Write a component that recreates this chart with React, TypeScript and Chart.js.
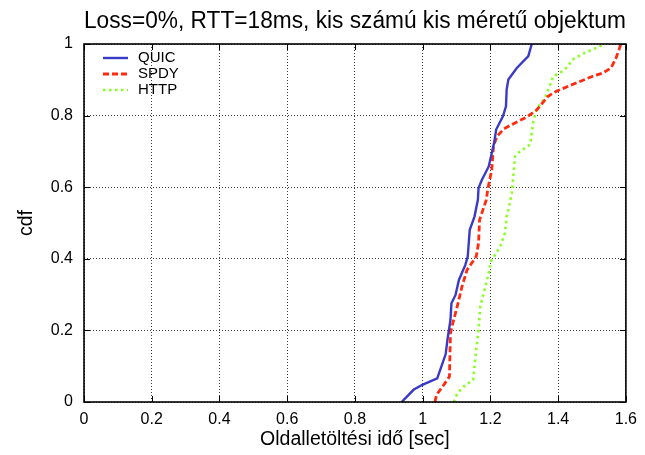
import { useEffect, useRef } from 'react';
import { Chart, registerables } from 'chart.js';

Chart.register(...registerables);

const titleText = 'Loss=0%, RTT=18ms, kis számú kis méretű objektum';
const xAxisTitle = 'Oldalletöltési idő [sec]';
const yAxisTitle = 'cdf';
const xTicks = [0, 0.2, 0.4, 0.6, 0.8, 1, 1.2, 1.4, 1.6];
const yTicks = [0, 0.2, 0.4, 0.6, 0.8, 1];
const seriesNames = ['QUIC', 'SPDY', 'HTTP'];

const quicX = [0.938, 0.973, 0.999, 1.043, 1.068, 1.073, 1.082, 1.085, 1.097, 1.107, 1.126, 1.133, 1.139, 1.153, 1.163, 1.165, 1.175, 1.195, 1.211, 1.217, 1.237, 1.246, 1.248, 1.253, 1.278, 1.312, 1.322];
const quicY = [0, 0.034, 0.048, 0.066, 0.134, 0.173, 0.229, 0.276, 0.299, 0.341, 0.383, 0.406, 0.481, 0.518, 0.565, 0.598, 0.621, 0.658, 0.724, 0.761, 0.798, 0.826, 0.873, 0.901, 0.933, 0.966, 1.0];

const spdyX = [1.036, 1.041, 1.073, 1.079, 1.082, 1.089, 1.102, 1.116, 1.131, 1.158, 1.165, 1.168, 1.188, 1.192, 1.204, 1.209, 1.219, 1.24, 1.263, 1.307, 1.336, 1.37, 1.395, 1.453, 1.502, 1.532, 1.556, 1.571, 1.58, 1.585];
const spdyY = [0, 0.02, 0.062, 0.071, 0.192, 0.22, 0.267, 0.322, 0.369, 0.406, 0.444, 0.509, 0.565, 0.593, 0.649, 0.714, 0.742, 0.763, 0.775, 0.796, 0.815, 0.854, 0.868, 0.891, 0.91, 0.919, 0.933, 0.961, 0.985, 1.0];

const httpX = [1.092, 1.102, 1.121, 1.149, 1.153, 1.158, 1.165, 1.17, 1.18, 1.195, 1.201, 1.229, 1.243, 1.248, 1.253, 1.263, 1.273, 1.287, 1.317, 1.322, 1.326, 1.336, 1.361, 1.375, 1.385, 1.405, 1.424, 1.444, 1.473, 1.512, 1.537];
const httpY = [0, 0.024, 0.043, 0.062, 0.099, 0.145, 0.201, 0.267, 0.304, 0.36, 0.392, 0.434, 0.472, 0.518, 0.537, 0.584, 0.686, 0.7, 0.719, 0.752, 0.78, 0.817, 0.85, 0.882, 0.91, 0.919, 0.933, 0.957, 0.973, 0.989, 1.0];

const FONT = "'Liberation Sans', Arial, Helvetica, sans-serif";

const toPoints = (xs: number[], ys: number[]) => xs.map((x, i) => ({ x, y: ys[i] }));
const fmt = (v: number) => String(Number(v.toFixed(1)));

const framePlugin = {
  id: 'frame',
  afterDatasetsDraw(chart: any) {
    const { ctx, chartArea } = chart;
    const { left, right, top, bottom } = chartArea;
    const xs = chart.scales.x;
    const ys = chart.scales.y;
    const tl = 6;
    ctx.save();
    ctx.strokeStyle = '#000';
    ctx.lineWidth = 1;
    ctx.setLineDash([]);
    ctx.beginPath();
    xTicks.forEach((v) => {
      const px = Math.round(xs.getPixelForValue(v)) + 0.5;
      ctx.moveTo(px, bottom);
      ctx.lineTo(px, bottom - tl);
      ctx.moveTo(px, top);
      ctx.lineTo(px, top + tl);
    });
    yTicks.forEach((v) => {
      const py = Math.round(ys.getPixelForValue(v)) + 0.5;
      ctx.moveTo(left, py);
      ctx.lineTo(left + tl, py);
      ctx.moveTo(right, py);
      ctx.lineTo(right - tl, py);
    });
    ctx.stroke();
    ctx.lineWidth = 1.6;
    ctx.strokeRect(left, top, right - left, bottom - top);

    // legend
    const rowY = [58.5, 74.5, 90.5];
    const x0 = left + 19;
    const x1 = left + 44;
    chart.data.datasets.forEach((ds: any, i: number) => {
      const y = top + rowY[i] - 44.5;
      ctx.beginPath();
      ctx.strokeStyle = ds.borderColor;
      ctx.lineWidth = ds.borderWidth;
      ctx.setLineDash(ds.borderDash || []);
      ctx.moveTo(x0, y);
      ctx.lineTo(x1, y);
      ctx.stroke();
      ctx.setLineDash([]);
      ctx.fillStyle = '#000';
      ctx.font = `15px ${FONT}`;
      ctx.textAlign = 'left';
      ctx.textBaseline = 'middle';
      ctx.fillText(seriesNames[i], left + 54, y);
    });
    ctx.restore();
  },
};

export default function App() {
  const ref = useRef<HTMLCanvasElement | null>(null);
  useEffect(() => {
    if (!ref.current) return;
    const chart = new Chart(ref.current, {
      type: 'line',
      data: {
        datasets: [
          {
            label: seriesNames[0],
            data: toPoints(quicX, quicY),
            borderColor: '#3a3ac8',
            borderWidth: 2.4,
            pointRadius: 0,
            tension: 0,
            fill: false,
          },
          {
            label: seriesNames[1],
            data: toPoints(spdyX, spdyY),
            borderColor: '#ff2a10',
            borderWidth: 2.8,
            borderDash: [6, 3],
            pointRadius: 0,
            tension: 0,
            fill: false,
          },
          {
            label: seriesNames[2],
            data: toPoints(httpX, httpY),
            borderColor: '#88ff22',
            borderWidth: 2.6,
            borderDash: [2.5, 3.5],
            pointRadius: 0,
            tension: 0,
            fill: false,
          },
        ],
      },
      options: {
        animation: false,
        responsive: false,
        devicePixelRatio: 1,
        layout: { padding: { top: 0, right: 15, left: 0, bottom: 0 } },
        plugins: {
          legend: { display: false },
          tooltip: { enabled: false },
          title: {
            display: true,
            text: titleText,
            fullSize: false,
            color: '#000',
            font: { family: FONT, size: 23.5, weight: 'normal' },
            padding: { top: 7, bottom: 8.8 },
          },
        },
        scales: {
          x: {
            type: 'linear',
            min: 0,
            max: 1.6,
            afterBuildTicks: (s: any) => {
              s.ticks = xTicks.map((v) => ({ value: v }));
            },
            afterFit: (s: any) => {
              s.height = 53;
            },
            ticks: {
              callback: (v: any) => fmt(Number(v)),
              color: '#000',
              font: { family: FONT, size: 16 },
              padding: 8,
              maxRotation: 0,
              autoSkip: false,
            },
            grid: {
              color: 'rgba(0,0,0,0.75)',
              lineWidth: 1,
              drawTicks: false,
            },
            border: { display: false, dash: [1, 2] },
            title: {
              display: true,
              text: xAxisTitle,
              color: '#000',
              font: { family: FONT, size: 19.5 },
              padding: { top: 0, bottom: 3.3 },
            },
          },
          y: {
            type: 'linear',
            min: 0,
            max: 1,
            afterBuildTicks: (s: any) => {
              s.ticks = yTicks.map((v) => ({ value: v }));
            },
            afterFit: (s: any) => {
              s.width = 84;
            },
            ticks: {
              callback: (v: any) => fmt(Number(v)),
              color: '#000',
              font: { family: FONT, size: 16 },
              padding: 11,
              autoSkip: false,
            },
            grid: {
              color: 'rgba(0,0,0,0.75)',
              lineWidth: 1,
              drawTicks: false,
            },
            border: { display: false, dash: [1, 2] },
            title: {
              display: true,
              text: yAxisTitle,
              color: '#000',
              font: { family: FONT, size: 19.5 },
              padding: { top: 14.5, bottom: 0 },
            },
          },
        },
      },
      plugins: [framePlugin],
    });
    return () => chart.destroy();
  }, []);
  return (
    <div style={{ position: 'absolute', left: 0, top: 0, width: 645, height: 455, background: '#fff' }}>
      <canvas ref={ref} width={645} height={455} style={{ display: 'block' }} />
    </div>
  );
}
